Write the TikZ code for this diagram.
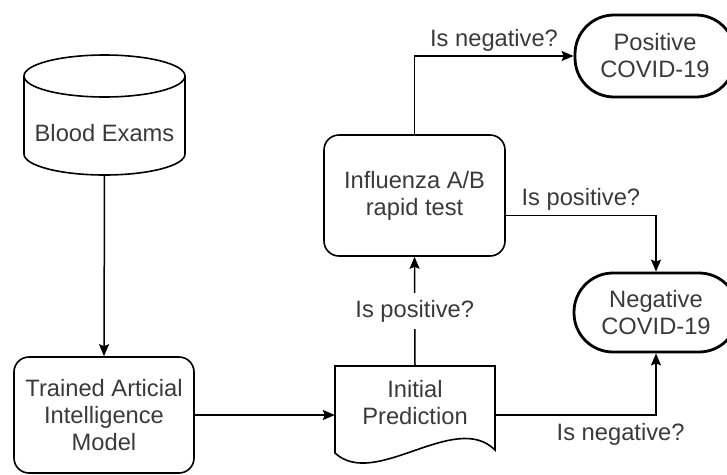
\documentclass[tikz,border=0pt]{standalone}
\usepackage{fontspec}
\setmainfont{Liberation Sans}
\usepackage{xcolor}
\usetikzlibrary{arrows.meta, positioning}
\tikzset{>={Stealth[length=12pt,width=10pt,inset=2pt]}}
\definecolor{mytext}{HTML}{3A3A3A}
\tikzset{
  txt/.style={text=mytext, align=center, font=\fontsize{23.7}{27}\selectfont},
  box/.style={txt, draw, line width=1.6pt, rounded corners=15pt},
  ends/.style={txt, draw, line width=2.8pt, rounded corners=39pt},
  lbl/.style={text=mytext, font=\fontsize{23.7}{27}\selectfont, inner sep=2pt},
  link/.style={->, line width=1.5pt},
  shapeline/.style={line width=1.6pt},
}

\begin{document}
\begin{tikzpicture}[x=1pt, y=-1pt]
	\useasboundingbox (0,0) rectangle (727,474);
	\draw [shapeline] (24,76) -- (24,154) arc[start angle=180, end angle=360, x radius=80.5pt, y radius=21pt] -- (185,76);
	\draw [shapeline] (104.5,76) ellipse [x radius=80.5pt, y radius=21pt];
	\node[txt] (blood) at (104.5,133) {Blood Exams};
	\coordinate (bloodbot) at (104.5,175);
	\node[box, minimum width=180pt, minimum height=116pt] (trained) at (104,415) {Trained Articial\\Intelligence\\Model};
	\draw [shapeline] (335,366) -- (495,366) -- (495,450) .. controls (455,410) and (375,490) .. (335,453) -- cycle;
	\node[txt, minimum width=160pt, minimum height=74pt] (init) at (415,403) {Initial\\Prediction};
	\node[box, minimum width=181pt, minimum height=121pt] (influ) at (414.5,195.5) {Influenza A/B\\rapid test};
	\node[ends, minimum width=160pt, minimum height=82pt] (pos) at (655,56) {Positive\\COVID-19};
	\node[ends, minimum width=164pt, minimum height=79pt, text depth=-4pt] (neg) at (656,312.5) {Negative\\COVID-19};
	\draw [link] (bloodbot) -- (trained.north);
	\draw [link] (trained.east) -- (trained.east -| init.west);
	\draw [link] (init.north) -- node[lbl, fill=white, inner sep=7pt] {Is positive?} (influ.south);
	\draw [link] (influ.north) |- node[lbl, pos=0.75, above=2pt] {Is negative?} (pos.west);
	\draw [link] ([yshift=-20pt]influ.east) -| node[lbl, pos=0.25, above=2pt] {Is positive?} (neg.north);
	\draw [link] (init.east |- trained.east) -| node[lbl, pos=0.39, below=6pt] {Is negative?} (neg.south);
\end{tikzpicture}
\end{document}
